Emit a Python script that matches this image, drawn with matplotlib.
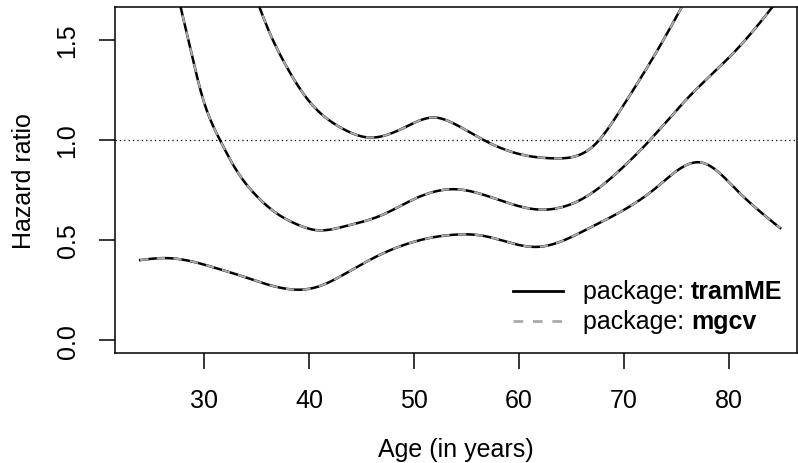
import numpy as np
import matplotlib
matplotlib.use("Agg")
import matplotlib.pyplot as plt

plt.rcParams['font.family'] = ['Liberation Sans', 'DejaVu Sans']

mid_x = [27.5, 28.8, 29.8, 31.5, 33.0, 35.0, 37.0, 39.0, 40.6, 43.5, 46.9, 50.1, 53.9, 57.0, 62.0, 66.6, 69.8, 72.5, 76.1, 80.9, 84.1, 85.0]
mid_y = [1.72, 1.43, 1.22, 1.0, 0.855, 0.72, 0.63, 0.575, 0.55, 0.57, 0.624, 0.707, 0.754, 0.72, 0.652, 0.723, 0.858, 1.0, 1.21, 1.46, 1.66, 1.72]
mid_gray_end = [1.62, 1.66]
up_x = [35.0, 36.2, 37.6, 39.9, 43.1, 45.8, 49.0, 52.0, 53.9, 57.0, 60.0, 63.4, 67.2, 69.8, 73.0, 75.9]
up_y = [1.70, 1.54, 1.39, 1.20, 1.059, 1.012, 1.06, 1.112, 1.079, 0.99, 0.93, 0.908, 0.975, 1.16, 1.43, 1.70]
lo_x = [23.9, 26.0, 28.5, 31.0, 33.0, 35.0, 37.0, 39.0, 41.0, 43.7, 46.5, 49.4, 53.9, 56.5, 61.8, 66.6, 73.0, 77.4, 80.9, 84.9]
lo_y = [0.40, 0.41, 0.397, 0.362, 0.33, 0.295, 0.265, 0.252, 0.27, 0.34, 0.42, 0.482, 0.527, 0.522, 0.466, 0.557, 0.758, 0.887, 0.742, 0.56]

def spline(x, y, n=400):
    x = np.asarray(x, float); y = np.asarray(y, float)
    N = len(x); h = np.diff(x)
    A = np.zeros((N, N)); b = np.zeros(N)
    A[0, 0] = A[-1, -1] = 1
    for i in range(1, N-1):
        A[i, i-1] = h[i-1]; A[i, i] = 2*(h[i-1]+h[i]); A[i, i+1] = h[i]
        b[i] = 6*((y[i+1]-y[i])/h[i] - (y[i]-y[i-1])/h[i-1])
    M = np.linalg.solve(A, b)
    xs = np.linspace(x[0], x[-1], n)
    k = np.clip(np.searchsorted(x, xs) - 1, 0, N-2)
    t1 = x[k+1]-xs; t0 = xs-x[k]; hk = h[k]
    ys = (M[k]*t1**3 + M[k+1]*t0**3)/(6*hk) + (y[k]/hk - M[k]*hk/6)*t1 + (y[k+1]/hk - M[k+1]*hk/6)*t0
    return xs, ys

FS = 18
fig = plt.figure(figsize=(7.98, 4.64), dpi=100)
ax = fig.add_axes([115/798, 1-354/464, (797-115)/798, (354-8)/464])
ax.axhline(1.0, color='black', lw=0.9, ls=(0, (1, 2.5)))
for xx, yy in [(mid_x, mid_y), (up_x, up_y), (lo_x, lo_y)]:
    sx, sy = spline(xx, yy)
    ax.plot(sx, sy, color='black', lw=1.8)
    ax.plot(sx, sy, color='#aaaaaa', lw=1.5, ls=(0, (4, 4)))
ax.set_xlim(21.5, 86.5)
ax.set_ylim(-0.064, 1.664)
ax.set_xticks([30, 40, 50, 60, 70, 80])
ax.set_yticks([0.0, 0.5, 1.0, 1.5])
ax.set_yticklabels(['0.0', '0.5', '1.0', '1.5'], rotation=90, va='center')
ax.tick_params(labelsize=FS, length=11.5, width=1.1)
ax.tick_params(axis='x', pad=14)
ax.tick_params(axis='y', pad=14)
ax.set_xlabel('Age (in years)', fontsize=FS, labelpad=18)
ax.set_ylabel('Hazard ratio', fontsize=FS, labelpad=14)
for s in ax.spines.values():
    s.set_linewidth(1.1)
tr = ax.transAxes
def ay(py):
    return (354 - py) / 346
def ax_(px):
    return (px - 115) / 682
ax.plot([ax_(513), ax_(563)], [ay(292)]*2, transform=tr, color='black', lw=2)
ax.plot([ax_(513), ax_(563)], [ay(322)]*2, transform=tr, color='#aaaaaa', lw=2, ls=(0, (3.5, 3.5)))
for py, name in [(292, 'tramME'), (322, 'mgcv')]:
    t = ax.text(ax_(583), ay(py), 'package: ', transform=tr, fontsize=FS, va='center')
    fig.canvas.draw()
    bb = t.get_window_extent().transformed(tr.inverted())
    ax.text(bb.x1, ay(py), name, transform=tr, fontsize=FS, va='center', fontweight='bold')
fig.savefig('out.png', dpi=100)
